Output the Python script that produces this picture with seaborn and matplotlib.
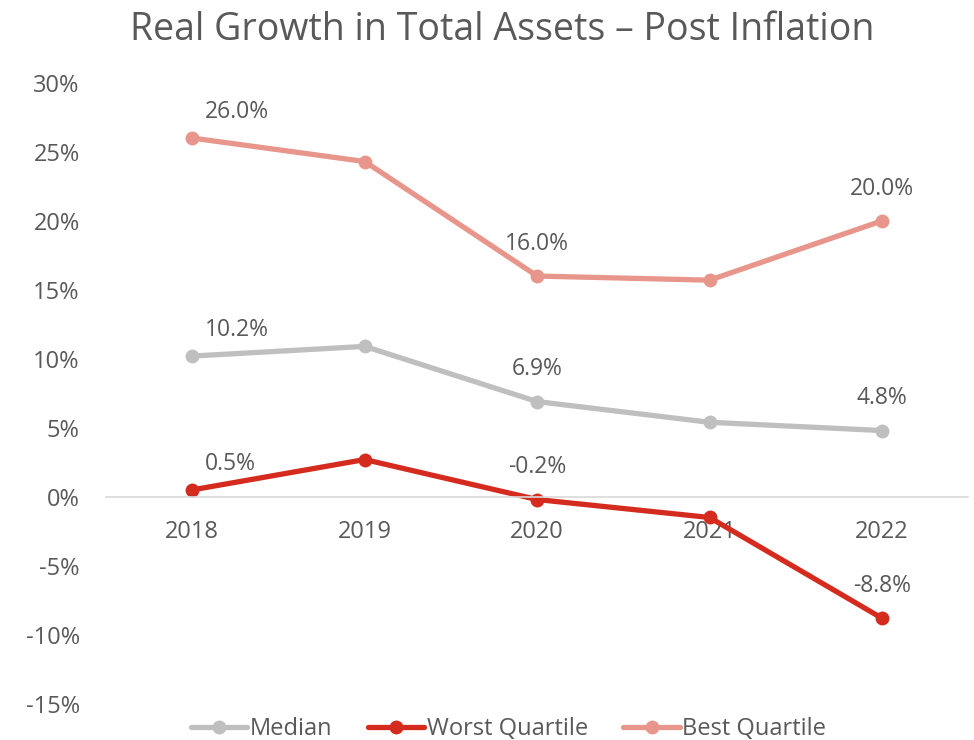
import pandas as pd
import numpy as np
import matplotlib.pyplot as plt
import seaborn as sns
from matplotlib.ticker import FuncFormatter

# data (percent)
years = ['2018', '2019', '2020', '2021', '2022']
median = [10.2, 10.9, 6.9, 5.4, 4.8]
worst = [0.5, 2.7, -0.2, -1.5, -8.8]
best = [26.0, 24.3, 16.0, 15.7, 20.0]
series_names = ['Median', 'Worst Quartile', 'Best Quartile']
colors = {'Median': '#BFBFBF', 'Worst Quartile': '#D52B1E', 'Best Quartile': '#E8968B'}
# which points carry a data label
labelled = [0, 2, 4]

df = pd.DataFrame({'Year': years * 3,
                   'Value': median + worst + best,
                   'Series': np.repeat(series_names, len(years))})

sns.set_theme(style='white')
plt.rcParams['font.family'] = ['Open Sans', 'DejaVu Sans']
txt = '#595959'

fig = plt.figure(figsize=(9.74, 7.40), dpi=100)
ax = fig.add_axes([0.109, 0.049, 0.885, 0.839])

for name in series_names:
    sub = df[df['Series'] == name]
    sns.lineplot(data=sub, x='Year', y='Value', color=colors[name], marker='o',
                 markersize=10, markeredgewidth=0, linewidth=3.8, label=name,
                 ax=ax, legend=False)
    vals = sub['Value'].tolist()
    for i in labelled:
        if i == 0:
            ax.annotate(f'{vals[i]:.1f}%', (i, vals[i]), xytext=(9, 10),
                        textcoords='offset points', ha='left', va='bottom',
                        fontsize=16.5, color=txt)
        else:
            ax.annotate(f'{vals[i]:.1f}%', (i, vals[i]), xytext=(0, 14.5),
                        textcoords='offset points', ha='center', va='bottom',
                        fontsize=16.5, color=txt)

ax.set_xlim(-0.5, 4.5)
ax.set_ylim(-15, 30)
ax.set_yticks(range(-15, 31, 5))
ax.yaxis.set_major_formatter(FuncFormatter(lambda v, p: f'{v:.0f}%'))
ax.set_xlabel('')
ax.set_ylabel('')

for s in ['top', 'right', 'left']:
    ax.spines[s].set_visible(False)
ax.spines['bottom'].set_position(('data', 0))
ax.spines['bottom'].set_color('#D9D9D9')
ax.spines['bottom'].set_linewidth(1.2)
ax.tick_params(axis='x', length=0, pad=17, labelsize=17, labelcolor=txt)
ax.tick_params(axis='y', length=0, pad=19, labelsize=17, labelcolor=txt)

fig.suptitle('Real Growth in Total Assets – Post Inflation', fontsize=27,
             color=txt, x=0.516, y=0.985)

handles, labels = ax.get_legend_handles_labels()
fig.legend(handles, labels, loc='center', bbox_to_anchor=(0.522, 0.015), ncol=3,
           frameon=False, fontsize=17, labelcolor=txt, handlelength=2.4,
           handletextpad=0.1, columnspacing=1.5)

fig.savefig('out.png', dpi=100)
